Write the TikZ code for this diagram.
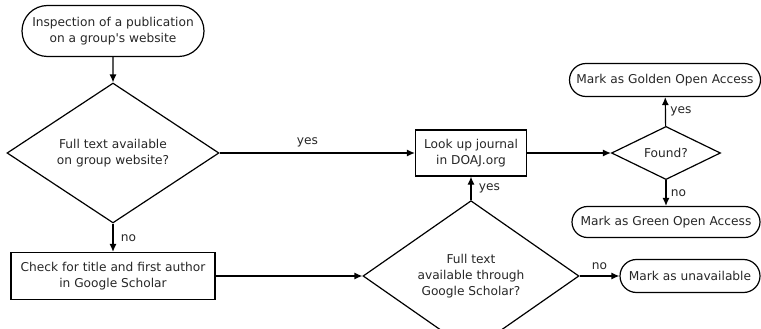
\documentclass[tikz,border=0pt]{standalone}
\usepackage{fontspec}
\newfontfamily\flowfont{DejaVu Sans}
\usetikzlibrary{positioning, shapes.geometric, shapes.misc, arrows.meta}

\begin{document}
\begin{tikzpicture}[x=1pt, y=-1pt,
		every node/.style={font=\flowfont\fontsize{12.2}{16}\selectfont, align=center, text=black!85},
		term/.style={draw, rounded rectangle, line width=1.2pt, inner sep=0pt},
		proc/.style={draw, rectangle, line width=1.2pt, inner sep=0pt},
		decide/.style={draw, diamond, line width=1.2pt, inner sep=0pt},
		flow/.style={-{Latex[length=8pt,width=7pt]}, line width=1.2pt}]
		      \useasboundingbox (0,0) rectangle (761,329);
		      % left column
		      \node[term, minimum width=182pt, minimum height=51pt] (start) at (113,31) {Inspection of a publication\\on a group's website};
		      \node[decide, minimum width=212pt, minimum height=102pt] (web) at (113,153) {Full text available\\on group website?};
		      \node[proc, minimum width=204pt, minimum height=47pt] (check) at (113,276) {Check for title and first author\\in Google Scholar};
		      % middle
		      \node[proc, minimum width=111pt, minimum height=46pt] (doaj) at (471,153) {Look up journal\\in DOAJ.org};
		      \node[decide, minimum width=216pt, minimum height=104pt] (gs) at (471,276) {Full text\\available through\\Google Scholar?};
		      % right
		      \node[decide, minimum width=109pt, minimum height=53pt] (found) at (666,153) {Found?};
		      \node[term, minimum width=191pt, minimum height=33pt] (gold) at (665,80) {Mark as Golden Open Access};
		      \node[term, minimum width=188pt, minimum height=31pt] (green) at (666,222) {Mark as Green Open Access};
		      \node[term, minimum width=140pt, minimum height=33pt] (unav) at (690,276) {Mark as unavailable};

		      \draw[flow] (start) -- (web);
		      \draw[flow] (web) -- node[above=2pt, pos=0.45] {yes} (doaj);
		      \draw[flow] (web) -- node[right=4pt] {no} (check);
		      \draw[flow] (check) -- (gs);
		      \draw[flow] (gs) -- node[right=4pt] {yes} (doaj);
		      \draw[flow] (gs) -- node[above=2pt] {no} (unav);
		      \draw[flow] (doaj) -- (found);
		      \draw[flow] (found) -- node[right=1pt] {yes} (gold);
		      \draw[flow] (found) -- node[right=1pt] {no} (green);

	      \end{tikzpicture}
\end{document}
